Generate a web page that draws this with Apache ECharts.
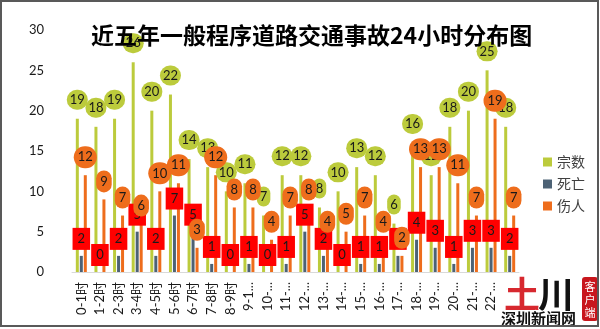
<!DOCTYPE html>
<html>
<head>
<meta charset="utf-8">
<script src="https://cdn.jsdelivr.net/npm/echarts@6/dist/echarts.min.js"></script>
<style>html,body{margin:0;padding:0;background:#fff}#c{width:600px;height:329px}</style>
</head>
<body>
<div id="c"></div>
<script>
const titleText = '近五年一般程序道路交通事故24小时分布图';
const categories = ['0-1时','1-2时','2-3时','3-4时','4-5时','5-6时','6-7时','7-8时','8-9时','9-10时','10-11时','11-12时','12-13时','13-14时','14-15时','15-16时','16-17时','17-18时','18-19时','19-20时','20-21时','21-22时','22-23时','23-24时'];
const seriesNames = ['宗数','死亡','伤人'];
const countData  = [19,18,19,26,20,22,14,13,10,11,7,12,12,8,10,13,12,6,16,12,18,20,25,18];
const deathData  = [2,0,2,5,2,7,5,1,0,1,0,1,5,2,0,1,1,2,4,3,1,3,3,2];
const injuryData = [12,9,7,6,10,11,3,12,8,8,4,7,8,4,5,7,4,2,13,13,11,7,19,7];
const yTicks = [0,5,10,15,20,25,30];

const FONT = 'Lato, "Noto Sans CJK SC", sans-serif';
const GREEN = '#BCCB3C', SLATE = '#4D6275', ORANGE = '#EE6D1C', RED = '#FF0000';

const chart = echarts.init(document.getElementById('c'), null, {renderer:'canvas'});

function lbl(bg, pad, radius, dist){
  return {show:true, position:'top', distance:dist, color:'#1a1a1a', fontSize:13, fontFamily:FONT,
    backgroundColor:bg, padding:pad, borderRadius:radius, lineHeight:16, align:'center'};
}

chart.setOption({
  animation:false,
  backgroundColor:'#fff',
  title:{text:titleText, left:86, top:19, zlevel:1, z:50,
    textStyle:{fontSize:23, fontWeight:'bold', color:'#000', fontFamily:'"Noto Sans CJK SC", sans-serif'}},
  legend:{orient:'vertical', left:538, top:150, itemWidth:9, itemHeight:9, itemGap:8, icon:'rect',
    textStyle:{fontSize:14, color:'#404040', fontFamily:FONT}, data:seriesNames},
  grid:{left:72, right:81, top:30, bottom:57},
  xAxis:{type:'category', data:categories,
    axisLine:{show:true, lineStyle:{color:'#D9D9D9', width:1}}, axisTick:{show:false},
    axisLabel:{rotate:90, margin:10, fontSize:13, color:'#1a1a1a', fontFamily:FONT, interval:0,
      width:34, overflow:'truncate', ellipsis:'...'}},
  yAxis:{type:'value', min:0, max:30, interval:5,
    axisLine:{show:false}, axisTick:{show:false}, splitLine:{show:false},
    axisLabel:{margin:28, fontSize:13, color:'#1a1a1a', fontFamily:FONT}},
  series:[
    {name:seriesNames[0], type:'bar', data:countData, barWidth:3, barGap:'33%', itemStyle:{color:GREEN},
      label:lbl(GREEN,[2,3,2,3],11,9)},
    {name:seriesNames[1], type:'bar', data:deathData, barWidth:3, barGap:'33%', itemStyle:{color:SLATE},
      label:lbl(RED,[3,5,3,5],0,6)},
    {name:seriesNames[2], type:'bar', data:injuryData, barWidth:3, barGap:'33%', itemStyle:{color:ORANGE},
      label:lbl(ORANGE,[3,4,3,4],11,7)}
  ],
  graphic:[
    {type:'rect', shape:{x:500, y:277, width:97, height:48}, style:{fill:'#fff'}, z:100},
    {type:'text', x:504, y:276, style:{text:'土', font:'bold 36px "Noto Sans CJK SC"', fill:'#D7282F'}, z:101},
    {type:'text', x:538, y:276, style:{text:'川', font:'bold 36px "Noto Sans CJK SC"', fill:'#111', stroke:'#fff', lineWidth:1}, z:101},
    {type:'text', x:501, y:311, style:{text:'深圳新闻网', font:'bold 15px "Noto Sans CJK SC"', fill:'#111', stroke:'#fff', lineWidth:2}, z:102},
    {type:'rect', shape:{x:582, y:277, width:16, height:44, r:3}, style:{fill:'#C8161D'}, z:101},
    {type:'text', x:590, y:280, style:{text:'客\n户\n端', font:'11px "Noto Sans CJK SC"', fill:'#fff', align:'center', lineHeight:13}, z:102},
    {type:'rect', shape:{x:1, y:1, width:597, height:325}, style:{fill:null, stroke:'#595959', lineWidth:2}, z:110}
  ]
});
</script>
</body>
</html>
